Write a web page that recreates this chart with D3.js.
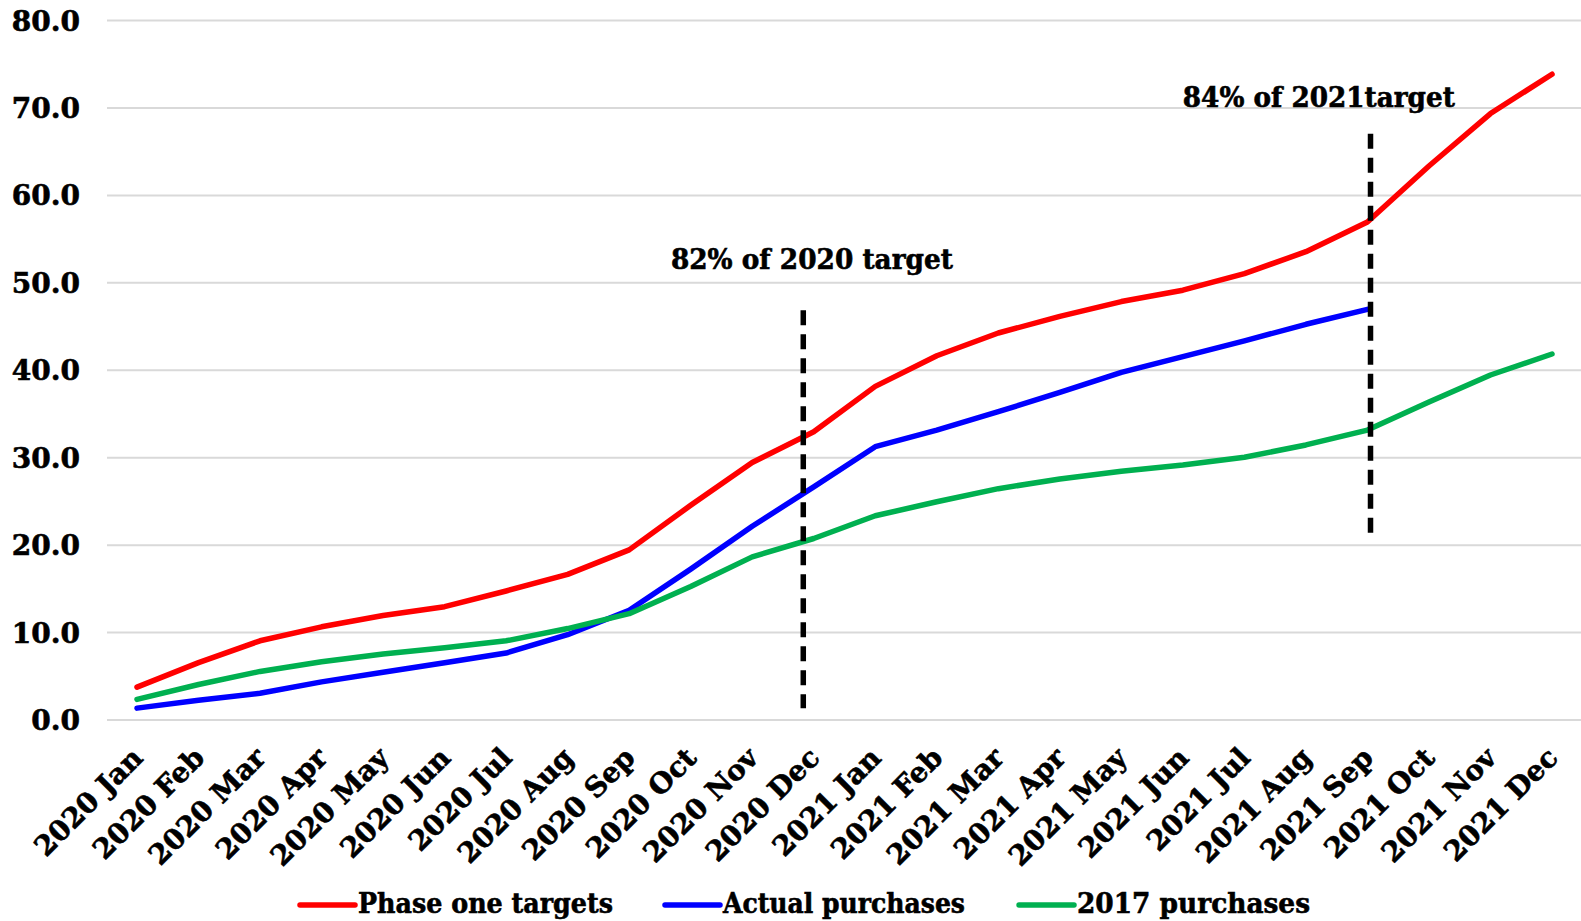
<!DOCTYPE html>
<html>
<head>
<meta charset="utf-8">
<script src="https://cdn.jsdelivr.net/npm/d3@7"></script>
<style>
  html, body { margin: 0; padding: 0; background: #fff; overflow: hidden; }
  svg { display: block; }
  text { font-family: "DejaVu Serif", "Liberation Serif", serif; font-weight: bold; fill: #000;
         stroke: #000; stroke-width: 0.6px; }
</style>
</head>
<body>
<svg id="chart" width="1581" height="921"></svg>
<script>
// Monthly cumulative purchases (USD bn)
const months = [
  "2020 Jan", "2020 Feb", "2020 Mar", "2020 Apr", "2020 May", "2020 Jun",
  "2020 Jul", "2020 Aug", "2020 Sep", "2020 Oct", "2020 Nov", "2020 Dec",
  "2021 Jan", "2021 Feb", "2021 Mar", "2021 Apr", "2021 May", "2021 Jun",
  "2021 Jul", "2021 Aug", "2021 Sep", "2021 Oct", "2021 Nov", "2021 Dec"
];
const phaseOneTargets = [3.7, 6.5, 9.0, 10.6, 11.9, 12.9, 14.7, 16.6, 19.4, 24.5, 29.4, 32.9,
                         38.1, 41.6, 44.2, 46.1, 47.8, 49.1, 51.0, 53.5, 56.9, 63.3, 69.3, 73.8];
const actualPurchases = [1.3, 2.2, 3.0, 4.3, 5.4, 6.5, 7.6, 9.7, 12.5, 17.2, 22.1, 26.6,
                         31.2, 33.1, 35.2, 37.4, 39.7, 41.5, 43.3, 45.2, 46.9];
const purchases2017 = [2.3, 4.0, 5.5, 6.6, 7.5, 8.2, 9.0, 10.4, 12.1, 15.2, 18.6, 20.7,
                       23.3, 24.9, 26.4, 27.5, 28.4, 29.1, 30.0, 31.4, 33.1, 36.3, 39.4, 41.8];
const yTicks = [0, 10, 20, 30, 40, 50, 60, 70, 80];

const seriesNames = ["Phase one targets", "Actual purchases", "2017 purchases"];
const seriesColors = ["#ff0000", "#0000ff", "#00b050"];
const seriesValues = [phaseOneTargets, actualPurchases, purchases2017];

// Year-end progress markers: position on the month index, vertical span, caption
const markerAt = [10.83, 20.05];
const markerFrom = [1.3, 21.3];
const markerTo = [46.8, 67.0];
const markerLabels = ["82% of 2020 target", "84% of 2021target"];
const markerLabelAt = [10.97, 19.21];
const markerLabelY = [51.5, 70.1];

const svg = d3.select("#chart");
const plotLeft = 107, plotRight = 1581;

const x = d3.scaleLinear().domain([0, months.length - 1]).range([137, 1552]);
const y = d3.scaleLinear().domain([0, 80]).range([719.5, 20]);

// Gridlines and value labels
const yAxis = svg.append("g")
  .attr("transform", `translate(${plotLeft},0)`)
  .call(d3.axisLeft(y).tickValues(yTicks).tickFormat(d3.format(".1f"))
        .tickSize(-(plotRight - plotLeft)).tickPadding(27));
yAxis.select(".domain").remove();
yAxis.selectAll(".tick line").attr("stroke", "#d9d9d9").attr("stroke-width", 2);
yAxis.selectAll(".tick text")
  .style("font-family", '"DejaVu Serif", serif').style("font-weight", "bold")
  .attr("font-size", 28).attr("fill", "#000").attr("dy", "0.36em");

// Month labels, rotated
const xAxis = svg.append("g")
  .attr("transform", "translate(0,719.5)")
  .call(d3.axisBottom(x).tickValues(d3.range(months.length))
        .tickFormat(i => months[i]).tickSize(0));
xAxis.select(".domain").remove();
xAxis.selectAll(".tick text")
  .style("font-family", '"DejaVu Serif", serif').style("font-weight", "bold")
  .attr("font-size", 28).attr("fill", "#000")
  .attr("text-anchor", "end")
  .attr("x", 0).attr("y", 0).attr("dy", 0)
  .attr("transform", "translate(7,40) rotate(-45)");

// Series lines
const line = d3.line().x((d, i) => x(i)).y(d => y(d));
seriesValues.forEach((vals, k) => {
  svg.append("path")
    .datum(vals)
    .attr("fill", "none")
    .attr("stroke", seriesColors[k])
    .attr("stroke-width", 5.5)
    .attr("stroke-linejoin", "round")
    .attr("stroke-linecap", "round")
    .attr("d", line);
});

// Dashed markers and captions
markerAt.forEach((m, k) => {
  svg.append("line")
    .attr("x1", x(m)).attr("x2", x(m))
    .attr("y1", y(markerTo[k])).attr("y2", y(markerFrom[k]))
    .attr("stroke", "#000").attr("stroke-width", 5.5)
    .attr("stroke-dasharray", "15 9");
  svg.append("text")
    .attr("x", x(markerLabelAt[k])).attr("y", y(markerLabelY[k]))
    .attr("text-anchor", "middle")
    .attr("font-size", 27)
    .attr("textLength", k === 0 ? 282 : 272)
    .attr("lengthAdjust", "spacingAndGlyphs")
    .text(markerLabels[k]);
});

// Legend
const legendSwatchX = [300, 665, 1019];
const legendTextWidth = [255, 242, 233];
const legend = svg.append("g").attr("transform", "translate(0,905)");
seriesNames.forEach((name, k) => {
  legend.append("line")
    .attr("x1", legendSwatchX[k]).attr("x2", legendSwatchX[k] + 55)
    .attr("y1", 0).attr("y2", 0)
    .attr("stroke", seriesColors[k]).attr("stroke-width", 5.5)
    .attr("stroke-linecap", "round");
  legend.append("text")
    .attr("x", legendSwatchX[k] + 58).attr("y", 8)
    .attr("font-size", 27)
    .attr("textLength", legendTextWidth[k])
    .attr("lengthAdjust", "spacingAndGlyphs")
    .text(name);
});
</script>
</body>
</html>
